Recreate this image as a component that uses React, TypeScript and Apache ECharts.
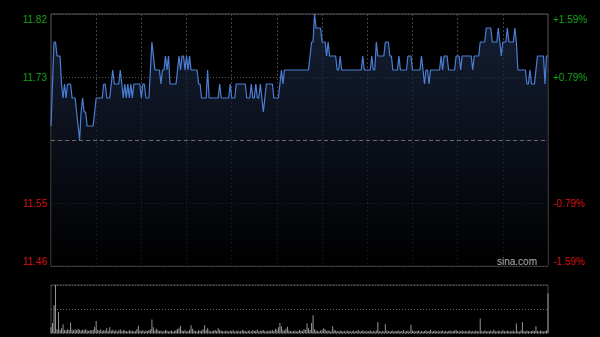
import React, { useEffect, useRef } from 'react';
import * as echarts from 'echarts';

const priceTicks = ['11.46', '11.55', '11.64', '11.73', '11.82'];
const pctTicks = ['-1.59%', '-0.79%', '0.00%', '+0.79%', '+1.59%'];
const prevClose = 11.64;
const priceMin = 11.46;
const priceMax = 11.82;
const watermark = 'sina.com';

const prices = [
  11.66, 11.72, 11.78, 11.78, 11.76, 11.76, 11.76, 11.72, 11.70, 11.72,
  11.70, 11.72, 11.72, 11.72, 11.70, 11.70, 11.70, 11.68, 11.66, 11.64,
  11.68, 11.70, 11.68, 11.68, 11.66, 11.66, 11.66, 11.66, 11.66, 11.68,
  11.70, 11.70, 11.70, 11.70, 11.70, 11.72, 11.72, 11.70, 11.70, 11.70,
  11.72, 11.74, 11.72, 11.72, 11.72, 11.72, 11.74, 11.72, 11.70, 11.72,
  11.70, 11.72, 11.70, 11.72, 11.70, 11.72, 11.72, 11.72, 11.72, 11.72,
  11.70, 11.72, 11.72, 11.70, 11.70, 11.70, 11.74, 11.78, 11.76, 11.74,
  11.74, 11.74, 11.74, 11.72, 11.74, 11.74, 11.76, 11.74, 11.76, 11.72,
  11.72, 11.72, 11.72, 11.72, 11.74, 11.76, 11.74, 11.76, 11.76, 11.74,
  11.76, 11.74, 11.76, 11.74, 11.74, 11.74, 11.74, 11.74, 11.72, 11.72,
  11.70, 11.70, 11.70, 11.70, 11.74, 11.70, 11.70, 11.70, 11.70, 11.70,
  11.70, 11.70, 11.72, 11.70, 11.70, 11.70, 11.70, 11.70, 11.70, 11.72,
  11.70, 11.70, 11.70, 11.72, 11.72, 11.72, 11.72, 11.72, 11.72, 11.72,
  11.70, 11.70, 11.70, 11.72, 11.70, 11.70, 11.72, 11.70, 11.70, 11.72,
  11.70, 11.68, 11.70, 11.72, 11.72, 11.72, 11.72, 11.72, 11.70, 11.70,
  11.70, 11.70, 11.72, 11.74, 11.72, 11.74, 11.74, 11.74, 11.74, 11.74,
  11.74, 11.74, 11.74, 11.74, 11.74, 11.74, 11.74, 11.74, 11.74, 11.74,
  11.74, 11.74, 11.76, 11.78, 11.78, 11.82, 11.80, 11.80, 11.80, 11.80,
  11.78, 11.78, 11.78, 11.76, 11.78, 11.76, 11.76, 11.76, 11.76, 11.76,
  11.74, 11.74, 11.76, 11.74, 11.74, 11.74, 11.74, 11.74, 11.74, 11.74,
  11.74, 11.74, 11.74, 11.74, 11.74, 11.74, 11.74, 11.76, 11.74, 11.74,
  11.74, 11.74, 11.74, 11.76, 11.74, 11.74, 11.78, 11.76, 11.76, 11.76,
  11.76, 11.76, 11.78, 11.78, 11.78, 11.76, 11.76, 11.74, 11.74, 11.74,
  11.74, 11.76, 11.74, 11.74, 11.74, 11.74, 11.74, 11.76, 11.76, 11.76,
  11.74, 11.74, 11.74, 11.74, 11.74, 11.74, 11.76, 11.74, 11.72, 11.74,
  11.74, 11.72, 11.74, 11.74, 11.74, 11.74, 11.74, 11.74, 11.74, 11.76,
  11.74, 11.76, 11.76, 11.76, 11.74, 11.74, 11.74, 11.74, 11.74, 11.76,
  11.76, 11.76, 11.74, 11.76, 11.76, 11.76, 11.76, 11.76, 11.76, 11.76,
  11.74, 11.76, 11.76, 11.76, 11.76, 11.78, 11.78, 11.78, 11.78, 11.80,
  11.80, 11.80, 11.80, 11.78, 11.78, 11.78, 11.78, 11.80, 11.78, 11.76,
  11.78, 11.78, 11.78, 11.80, 11.78, 11.78, 11.78, 11.78, 11.80, 11.78,
  11.74, 11.74, 11.74, 11.74, 11.74, 11.74, 11.72, 11.72, 11.74, 11.72,
  11.72, 11.72, 11.74, 11.76, 11.76, 11.76, 11.76, 11.76, 11.72, 11.76,
  11.76,
];

const volumes = [
  12, 21, 58, 100, 8, 44, 6, 10, 18, 6,
  5, 8, 6, 22, 7, 5, 8, 6, 9, 7,
  5, 7, 6, 8, 5, 4, 6, 5, 7, 13,
  25, 6, 5, 8, 4, 6, 5, 10, 4, 12,
  5, 7, 4, 6, 3, 5, 8, 4, 6, 5,
  4, 3, 6, 4, 5, 3, 4, 8, 15, 5,
  4, 6, 3, 5, 4, 6, 8, 28, 12, 5,
  9, 6, 4, 5, 3, 4, 6, 5, 3, 4,
  5, 3, 4, 6, 8, 10, 15, 5, 4, 6,
  3, 4, 7, 16, 9, 5, 4, 3, 6, 4,
  5, 8, 16, 6, 10, 5, 3, 4, 5, 6,
  4, 10, 6, 5, 4, 3, 5, 4, 3, 5,
  4, 6, 3, 4, 5, 3, 4, 6, 5, 4,
  3, 5, 4, 3, 6, 4, 5, 7, 3, 4,
  5, 6, 4, 3, 5, 4, 5, 6, 4, 9,
  7, 12, 21, 14, 6, 5, 9, 13, 5, 4,
  3, 4, 5, 3, 4, 6, 5, 4, 8, 7,
  20, 10, 6, 21, 37, 8, 5, 4, 3, 5,
  6, 10, 8, 4, 5, 4, 3, 14, 6, 5,
  4, 3, 5, 4, 3, 4, 3, 5, 4, 3,
  4, 5, 3, 4, 6, 3, 4, 5, 3, 4,
  3, 4, 5, 3, 4, 3, 5, 23, 4, 3,
  4, 3, 18, 5, 4, 3, 4, 5, 3, 4,
  4, 5, 3, 4, 6, 3, 4, 5, 3, 17,
  5, 4, 3, 4, 5, 3, 4, 3, 4, 5,
  3, 4, 7, 3, 4, 5, 3, 4, 3, 4,
  5, 3, 4, 3, 4, 5, 3, 4, 5, 6,
  4, 3, 4, 5, 3, 4, 3, 4, 5, 3,
  4, 3, 5, 4, 3, 30, 4, 3, 5, 4,
  3, 4, 5, 3, 7, 4, 3, 5, 4, 3,
  6, 4, 3, 5, 4, 3, 4, 5, 3, 20,
  4, 3, 5, 23, 4, 3, 5, 4, 3, 4,
  5, 4, 14, 4, 3, 5, 4, 3, 4, 5,
  83,
];

function buildTimes(): string[] {
  const out: string[] = [];
  const pad = (n: number) => (n < 10 ? '0' + n : '' + n);
  for (let m = 9 * 60 + 30; m <= 12 * 60; m++) out.push(pad(Math.floor(m / 60)) + ':' + pad(m % 60));
  for (let m = 13 * 60 + 1; m <= 16 * 60; m++) out.push(pad(Math.floor(m / 60)) + ':' + pad(m % 60));
  return out;
}

const GREEN = '#17a017';
const RED = '#d01010';
const FONT = '"Liberation Sans", Arial, sans-serif';

export default function App() {
  const ref = useRef<HTMLDivElement>(null);
  useEffect(() => {
    if (!ref.current) return;
    const chart = echarts.init(ref.current, null, { renderer: 'svg' });
    const times = buildTimes();
    const option: any = {
      animation: false,
      backgroundColor: '#000000',
      grid: [
        { left: 51, top: 14, width: 497, height: 252, show: true, borderColor: '#5a5a5a', borderWidth: 1, backgroundColor: 'transparent' },
        { left: 51, top: 285, width: 497, height: 48, show: true, borderColor: '#444444', borderWidth: 1, backgroundColor: 'transparent' },
      ],
      xAxis: [
        {
          type: 'category', gridIndex: 0, data: times, boundaryGap: false,
          axisLine: { show: false }, axisTick: { show: false }, axisLabel: { show: false },
          splitLine: {
            show: true,
            interval: (i: number) => i % 30 === 0 && i > 0 && i < 330,
            lineStyle: { color: '#404040', type: [2, 2], width: 1 },
          },
        },
        {
          type: 'category', gridIndex: 1, data: times, boundaryGap: false,
          axisLine: { show: false }, axisTick: { show: false }, axisLabel: { show: false }, splitLine: { show: false },
        },
      ],
      yAxis: [
        {
          type: 'value', gridIndex: 0, min: 0, max: 4, interval: 1, position: 'left',
          axisLine: { show: false }, axisTick: { show: false },
          axisLabel: {
            margin: 4, fontFamily: FONT, fontSize: 10,
            formatter: (v: number) => (v === 2 ? '' : priceTicks[v]),
            color: (v: any) => (Number(v) > 2 ? GREEN : RED),
            verticalAlignMinLabel: 'bottom', verticalAlignMaxLabel: 'top',
          },
          splitLine: { show: true, lineStyle: { color: '#555555', type: [1, 2], width: 1 } },
        },
        {
          type: 'value', gridIndex: 0, min: 0, max: 4, interval: 1, position: 'right',
          axisLine: { show: false }, axisTick: { show: false },
          axisLabel: {
            margin: 5, fontFamily: FONT, fontSize: 10,
            formatter: (v: number) => (v === 2 ? '' : pctTicks[v]),
            color: (v: any) => (Number(v) > 2 ? GREEN : RED),
            verticalAlignMinLabel: 'bottom', verticalAlignMaxLabel: 'top',
          },
          splitLine: { show: false },
        },
        { type: 'value', gridIndex: 0, min: priceMin, max: priceMax, show: false, splitLine: { show: false } },
        {
          type: 'value', gridIndex: 1, min: 0, max: 100, interval: 50,
          axisLine: { show: false }, axisTick: { show: false }, axisLabel: { show: false },
          splitLine: { show: true, lineStyle: { color: '#666666', type: [1, 2], width: 1 } },
        },
      ],
      series: [
        {
          type: 'line', xAxisIndex: 0, yAxisIndex: 2, data: prices, symbol: 'none',
          lineStyle: { color: '#4b7fd6', width: 1.2 },
          areaStyle: {
            origin: 'start',
            color: new echarts.graphic.LinearGradient(0, 0, 0, 1, [
              { offset: 0, color: '#1e2c4a' },
              { offset: 1, color: '#000000' },
            ]),
          },
          markLine: {
            symbol: 'none', silent: true, label: { show: false },
            lineStyle: { color: '#6a6a6a', type: [4, 3], width: 1 },
            data: [{ yAxis: prevClose }],
          },
        },
        {
          type: 'bar', xAxisIndex: 1, yAxisIndex: 3, data: volumes, barWidth: 1,
          itemStyle: { color: '#959595' },
        },
      ],
      graphic: [
        {
          type: 'text', right: 63, top: 256, z: 100,
          style: { text: watermark, fill: '#b0b0b0', font: '10px "Liberation Sans", Arial, sans-serif' },
        },
      ],
    };
    chart.setOption(option);
    return () => chart.dispose();
  }, []);
  return (
    <div style={{ position: 'absolute', left: 0, top: 0, width: 600, height: 337, background: '#000' }}>
      <div ref={ref} style={{ width: 600, height: 337 }} />
    </div>
  );
}
